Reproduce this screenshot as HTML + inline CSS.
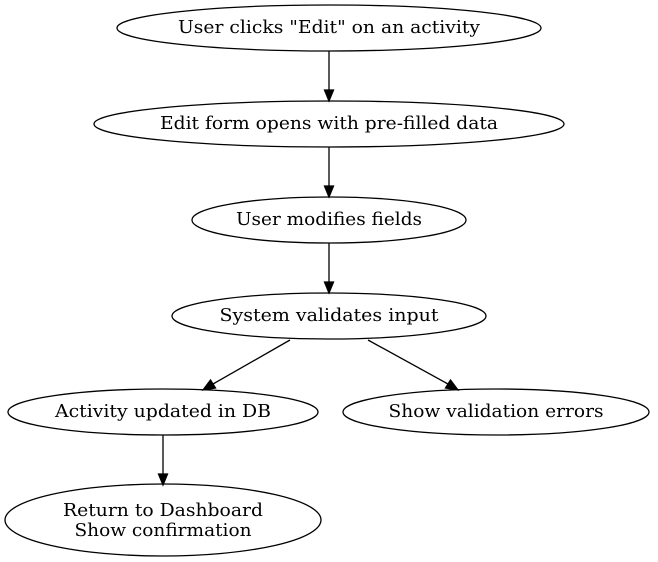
<!DOCTYPE html>
<html><head><meta charset="utf-8"><style>
html,body{margin:0;padding:0;background:#fff;}
svg{display:block;}
text{font-family:"DejaVu Serif",serif;font-size:18px;fill:#000;}
</style></head><body>
<svg width="658" height="562" viewBox="0 0 658 562" xmlns="http://www.w3.org/2000/svg">
<g fill="none" stroke="#000" stroke-width="1.3">
<ellipse cx="329" cy="28" rx="212" ry="23"/>
<ellipse cx="329" cy="124" rx="235" ry="23"/>
<ellipse cx="329" cy="220" rx="137" ry="23"/>
<ellipse cx="329" cy="316" rx="157" ry="23"/>
<ellipse cx="163" cy="412" rx="155" ry="23"/>
<ellipse cx="496" cy="412" rx="153" ry="23"/>
<ellipse cx="163" cy="520" rx="158" ry="36"/>
<line x1="329" y1="51" x2="329" y2="90"/>
<line x1="329" y1="147" x2="329" y2="186"/>
<line x1="329" y1="243" x2="329" y2="282"/>
<line x1="290" y1="340" x2="213" y2="384"/>
<line x1="368" y1="340" x2="448" y2="384"/>
<line x1="163" y1="435" x2="163" y2="474"/>
</g>
<g fill="#000" stroke="#000" stroke-width="1.3">
<polygon points="324.5,90 333.5,90 329,101"/>
<polygon points="324.5,186 333.5,186 329,197"/>
<polygon points="324.5,282 333.5,282 329,293"/>
<polygon points="210.5,380 215.5,388 203,390"/>
<polygon points="445.5,388 450.5,380 458,390"/>
<polygon points="158.5,474 167.5,474 163,485"/>
</g>
<g text-anchor="middle">
<text x="329" y="33" textLength="302" lengthAdjust="spacingAndGlyphs">User clicks "Edit" on an activity</text>
<text x="329" y="129" textLength="338" lengthAdjust="spacingAndGlyphs">Edit form opens with pre-filled data</text>
<text x="329" y="225" textLength="186" lengthAdjust="spacingAndGlyphs">User modifies fields</text>
<text x="329" y="321" textLength="219" lengthAdjust="spacingAndGlyphs">System validates input</text>
<text x="163" y="417" textLength="216" lengthAdjust="spacingAndGlyphs">Activity updated in DB</text>
<text x="496" y="417" textLength="215" lengthAdjust="spacingAndGlyphs">Show validation errors</text>
<text x="163" y="516" textLength="200" lengthAdjust="spacingAndGlyphs">Return to Dashboard</text>
<text x="163" y="536" textLength="177" lengthAdjust="spacingAndGlyphs">Show confirmation</text>
</g>
</svg>
</body></html>
